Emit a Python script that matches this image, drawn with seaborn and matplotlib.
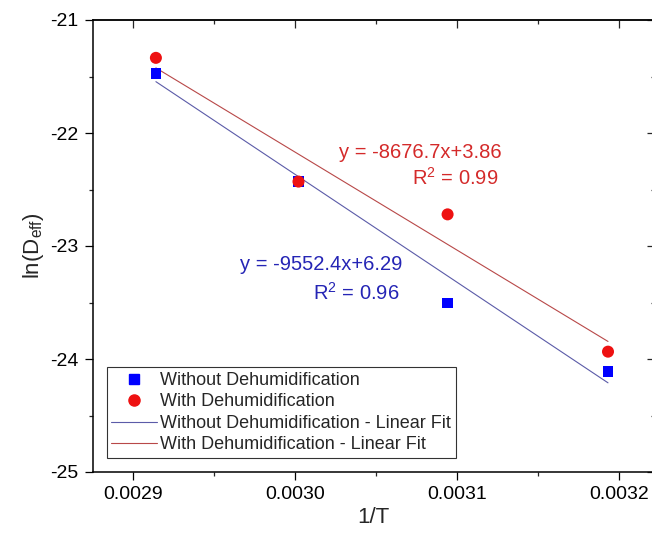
import matplotlib
matplotlib.use("Agg")
import matplotlib.pyplot as plt
import seaborn as sns
import numpy as np
import pandas as pd
from matplotlib.ticker import MultipleLocator, FormatStrFormatter
from matplotlib.lines import Line2D

# ---- data ----
inv_T = [0.002914, 0.003002, 0.003094, 0.003193]
ln_deff_without = [-21.475, -22.43, -23.505, -24.11]
ln_deff_with = [-21.335, -22.43, -22.72, -23.935]
series_names = ["Without Dehumidification", "With Dehumidification"]
fit_slopes = [-9552.4, -8676.7]
fit_intercepts = [6.29, 3.86]
fit_labels = ["y = -9552.4x+6.29", "y = -8676.7x+3.86"]
fit_r2 = ["0.96", "0.99"]

sns.set_theme(style="white")
plt.rcParams["font.family"] = ["Liberation Sans", "DejaVu Sans"]
plt.rcParams["mathtext.default"] = "regular"

fig = plt.figure(figsize=(6.52, 5.45), dpi=100)
ax = fig.add_axes([92.7 / 652, 73 / 545, (655 - 92.7) / 652, (472 - 20) / 545])

blue = "#0000ff"
red = "#ee1111"
blue_line = "#5b5ba8"
red_line = "#b84848"
blue_text = "#2525b5"
red_text = "#d42a2a"

df_pts = pd.DataFrame({
    "x": inv_T * 2,
    "y": ln_deff_without + ln_deff_with,
    "series": [series_names[0]] * 4 + [series_names[1]] * 4,
})

# fit lines from stated equations
x_fit = [inv_T[0], inv_T[-1]]
fit_rows = []
for name, m, b in zip(series_names, fit_slopes, fit_intercepts):
    for xv in x_fit:
        fit_rows.append({"x": xv, "y": m * xv + b, "series": name + " - Linear Fit"})
df_fit = pd.DataFrame(fit_rows)

sns.lineplot(data=df_fit, x="x", y="y", hue="series",
             palette=[blue_line, red_line], linewidth=0.8, ax=ax,
             legend=False, zorder=2)

sns.scatterplot(data=df_pts[df_pts.series == series_names[0]], x="x", y="y",
                marker="s", color=blue, s=60, edgecolor="none", ax=ax,
                legend=False, zorder=3)
sns.scatterplot(data=df_pts[df_pts.series == series_names[1]], x="x", y="y",
                marker="o", color=red, s=75, edgecolor="none", ax=ax,
                legend=False, zorder=4)

ax.set_xlim(0.002875, 0.003222)
ax.set_ylim(-25, -21)
ax.xaxis.set_major_locator(MultipleLocator(0.0001))
ax.xaxis.set_minor_locator(MultipleLocator(0.00005))
ax.xaxis.set_major_formatter(FormatStrFormatter("%.4f"))
ax.yaxis.set_major_locator(MultipleLocator(1))
ax.yaxis.set_minor_locator(MultipleLocator(0.5))
ax.yaxis.set_major_formatter(FormatStrFormatter("%d"))

for sp in ax.spines.values():
    sp.set_color("black")
    sp.set_linewidth(1.1)

ax.tick_params(axis="both", which="major", direction="out", length=6, width=0.9,
               labelsize=14, colors="black", pad=4,
               bottom=True, left=True, top=False, right=False)
ax.tick_params(axis="both", which="minor", direction="out", length=3, width=0.9,
               bottom=True, left=True, top=False, right=False)

sec_x = ax.secondary_xaxis("top")
sec_x.xaxis.set_major_locator(MultipleLocator(0.0001))
sec_x.xaxis.set_minor_locator(MultipleLocator(0.00005))
sec_x.tick_params(which="major", direction="in", length=6, width=0.9, labeltop=False)
sec_x.tick_params(which="minor", direction="in", length=3, width=0.9)
sec_x.spines["top"].set_linewidth(1.1)
sec_y = ax.secondary_yaxis("right")
sec_y.yaxis.set_major_locator(MultipleLocator(1))
sec_y.yaxis.set_minor_locator(MultipleLocator(0.5))
sec_y.tick_params(which="major", direction="in", length=6, width=0.9, labelright=False)
sec_y.tick_params(which="minor", direction="in", length=3, width=0.9)

ax.set_xlabel("1/T", fontsize=16, labelpad=3)
ax.set_ylabel("ln(D$_{eff}$)", fontsize=16, labelpad=3)

def px_to_x(px):
    return 0.0029 + (px - 133) / 162.2 * 1e-4

def px_to_y(py):
    return -21.0 - (py - 20) / 113.0

# equation annotations
ax.text(px_to_x(339), px_to_y(152), fit_labels[1], color=red_text,
        fontsize=14.5, ha="left", va="center")
ax.text(px_to_x(412), px_to_y(178), "R$^2$ = " + fit_r2[1], color=red_text,
        fontsize=14.5, ha="left", va="center")
ax.text(px_to_x(240), px_to_y(265), fit_labels[0], color=blue_text,
        fontsize=14.5, ha="left", va="center")
ax.text(px_to_x(313), px_to_y(293), "R$^2$ = " + fit_r2[0], color=blue_text,
        fontsize=14.5, ha="left", va="center")

handles = [
    Line2D([], [], linestyle="none", marker="s", color=blue, markersize=7),
    Line2D([], [], linestyle="none", marker="o", color=red, markersize=8),
    Line2D([], [], color=blue_line, linewidth=0.8),
    Line2D([], [], color=red_line, linewidth=0.8),
]
labels = [series_names[0], series_names[1],
          series_names[0] + " - Linear Fit", series_names[1] + " - Linear Fit"]
leg = ax.legend(handles, labels, loc="lower left", bbox_to_anchor=(0.0254, 0.031),
                fontsize=13, frameon=True, fancybox=False, edgecolor="black",
                handlelength=2.5, handletextpad=0.2, labelspacing=0.25,
                borderpad=0.25, borderaxespad=0)
leg.get_frame().set_linewidth(0.8)

fig.savefig("out.png", dpi=100)
